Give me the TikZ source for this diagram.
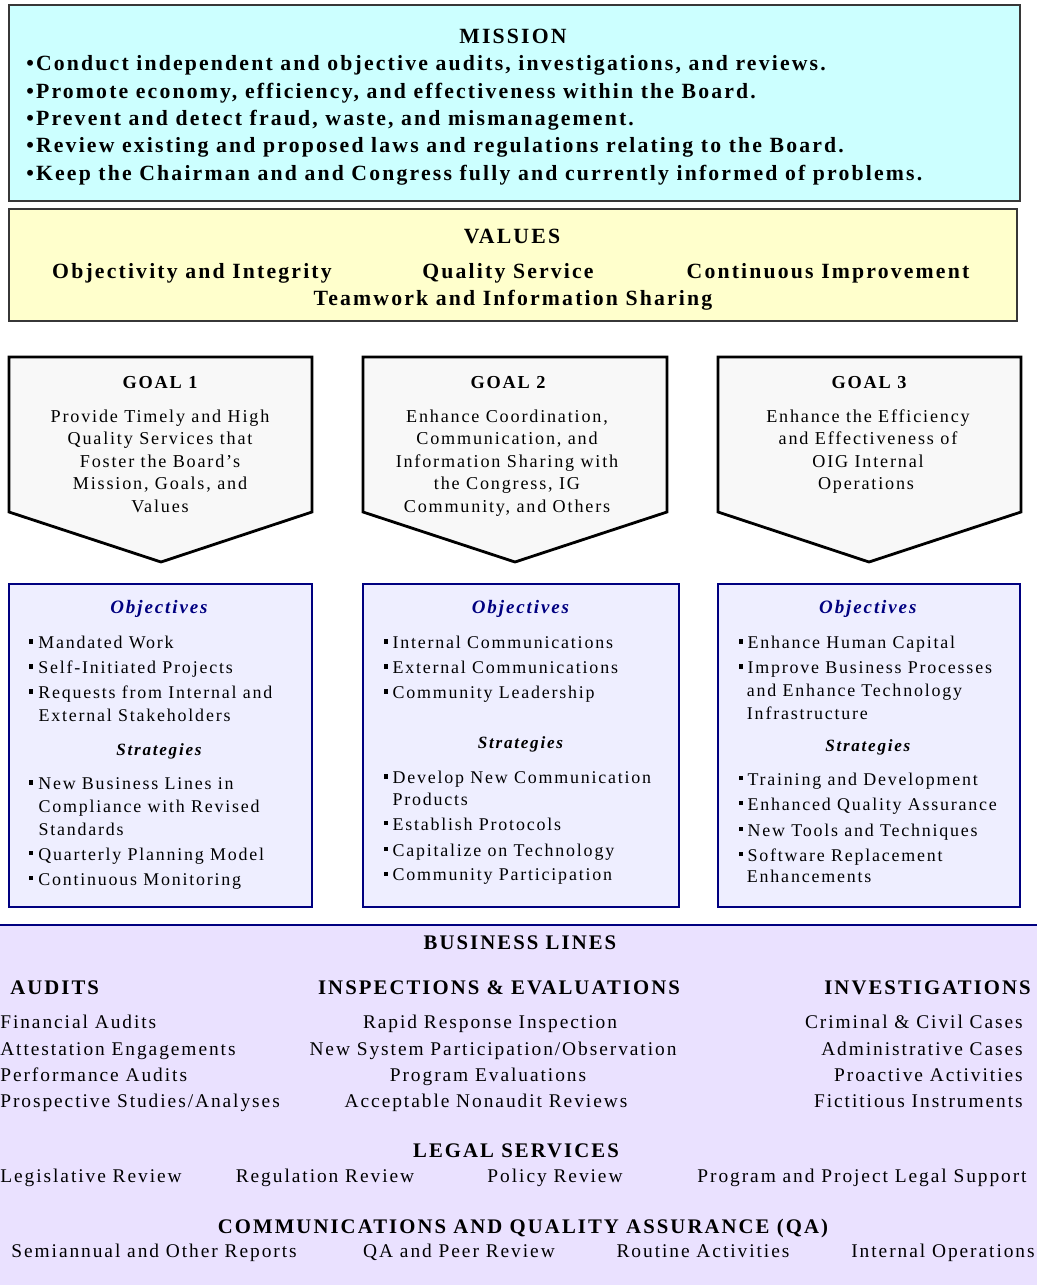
\documentclass[tikz,border=0pt]{standalone}
\usepackage{fontspec}
\setmainfont{Liberation Serif}[LetterSpace=10,Ligatures=CommonOff]
\usepackage{tikz}
\definecolor{navy}{RGB}{0,0,128}
\definecolor{missioncyan}{RGB}{204,255,255}
\definecolor{valuesyellow}{RGB}{255,255,204}
\definecolor{goalgray}{RGB}{248,248,248}
\definecolor{objlav}{RGB}{238,238,255}
\definecolor{bizlav}{RGB}{234,225,255}
\definecolor{framegray}{RGB}{55,55,55}
\newcommand{\fbig}{\fontsize{15.45}{18}\selectfont}
\newcommand{\fgoal}{\fontsize{12.9}{15}\selectfont}
\newcommand{\fitem}{\fontsize{12.75}{15}\selectfont}
\newcommand{\fgt}{\fontsize{13}{15}\selectfont}
\newcommand{\fobj}{\fontsize{13.5}{16}\selectfont}
\newcommand{\fstr}{\fontsize{12.2}{14}\selectfont}
\newcommand{\fhead}{\fontsize{14.75}{17}\selectfont}
\newcommand{\fbl}{\fontsize{13.8}{16}\selectfont}
\newcommand{\sqb}{\rule[3.4pt]{3pt}{3pt}\hspace{3.4pt}}
\tikzset{
  topbox/.style={draw=framegray,line width=1.2pt},
  goalbox/.style={draw=black,line width=2pt,fill=goalgray,line join=miter},
  objbox/.style={draw=navy,line width=2pt,fill=objlav},
  mhead/.style={anchor=base,inner sep=0pt,font=\fbig\bfseries},
  mline/.style={anchor=base west,inner sep=0pt,font=\fbig\bfseries},
  gtitle/.style={anchor=base,inner sep=0pt,font=\fgt\bfseries},
  gtext/.style={anchor=base,inner sep=0pt,font=\fgoal},
  objhead/.style={anchor=base,inner sep=0pt,font=\fobj\bfseries\itshape,text=navy},
  strhead/.style={anchor=base,inner sep=0pt,font=\fstr\bfseries\itshape},
  item/.style={anchor=base west,inner sep=0pt,font=\fitem},
  blhead/.style={anchor=base,inner sep=0pt,font=\fhead\bfseries},
  blitem/.style={anchor=base,inner sep=0pt,font=\fbl}
}
\begin{document}
\begin{tikzpicture}[x=0.025cm,y=-0.025cm]
\fill[white] (0,0) rectangle (1037,1285);
\useasboundingbox (0,0) rectangle (1037,1285);
% mission
\draw[topbox,fill=missioncyan] (9,5) rectangle (1020,201);
\node[mhead] (mhead) at (513,43) {MISSION};
\node[mline] (m1) at (26,70) {•Conduct independent and objective audits, investigations, and reviews.};
\node[mline] (m2) at (26,98) {•Promote economy, efficiency, and effectiveness within the Board.};
\node[mline] (m3) at (26,125) {•Prevent and detect fraud, waste, and mismanagement.};
\node[mline] (m4) at (26,152) {•Review existing and proposed laws and regulations relating to the Board.};
\node[mline] (m5) at (26,180) {•Keep the Chairman and and Congress fully and currently informed of problems.};
% values
\draw[topbox,fill=valuesyellow] (9,209) rectangle (1017,321);
\node[mhead] (vhead) at (512,243) {VALUES};
\node[mhead] (v1) at (192,278) {Objectivity and Integrity};
\node[mhead] (v2) at (508,278) {Quality Service};
\node[mhead] (v3) at (828,278) {Continuous Improvement};
\node[mhead] (v4) at (513,305) {Teamwork and Information Sharing};
% goals
\draw[goalbox] (9,357) -- (312,357) -- (312,512) -- (161,562) -- (9,512) -- cycle;
\draw[goalbox] (363,357) -- (667,357) -- (667,512) -- (515,562) -- (363,512) -- cycle;
\draw[goalbox] (718,357) -- (1021,357) -- (1021,512) -- (869,562) -- (718,512) -- cycle;
\node[gtitle] (g1t) at (160,388) {GOAL 1};
\node[gtext] (g1a) at (160,422) {Provide Timely and High};
\node[gtext] (g1b) at (160,444.5) {Quality Services that};
\node[gtext] (g1c) at (160,467.3) {Foster the Board’s};
\node[gtext] (g1d) at (160,489.5) {Mission, Goals, and};
\node[gtext] (g1e) at (160,512.3) {Values};
\node[gtitle] (g2t) at (508,388) {GOAL 2};
\node[gtext] (g2a) at (507,422) {Enhance Coordination,};
\node[gtext] (g2b) at (507,444.5) {Communication, and};
\node[gtext] (g2c) at (507,467.3) {Information Sharing with};
\node[gtext] (g2d) at (507,489.5) {the Congress, IG};
\node[gtext] (g2e) at (507,512.3) {Community, and Others};
\node[gtitle] (g3t) at (869,388) {GOAL 3};
\node[gtext] (g3a) at (868,422) {Enhance the Efficiency};
\node[gtext] (g3b) at (868,444.5) {and Effectiveness of};
\node[gtext] (g3c) at (868,467.3) {OIG Internal};
\node[gtext] (g3d) at (866,489.5) {Operations};
% objectives and strategies
\draw[objbox] (9,584) rectangle (312,907);
\draw[objbox] (363,584) rectangle (679,907);
\draw[objbox] (718,584) rectangle (1020,907);
\node[objhead] (o1h) at (159,613.3) {Objectives};
\node[item] (o1a) at (29,648.3) {\sqb Mandated Work};
\node[item] (o1b) at (29,673.3) {\sqb Self-Initiated Projects};
\node[item] (o1c) at (29,698.3) {\sqb Requests from Internal and};
\node[item] (o1d) at (38.3,721.7) {External Stakeholders};
\node[strhead] (s1h) at (159,755) {Strategies};
\node[item] (s1a) at (29,789.3) {\sqb New Business Lines in};
\node[item] (s1b) at (38.3,812.3) {Compliance with Revised};
\node[item] (s1c) at (38.3,835) {Standards};
\node[item] (s1d) at (29,860) {\sqb Quarterly Planning Model};
\node[item] (s1e) at (29,885) {\sqb Continuous Monitoring};
\node[objhead] (o2h) at (520.5,613.3) {Objectives};
\node[item] (o2a) at (383.3,648.3) {\sqb Internal Communications};
\node[item] (o2b) at (383.3,673.3) {\sqb External Communications};
\node[item] (o2c) at (383.3,698.3) {\sqb Community Leadership};
\node[strhead] (s2h) at (520.5,748.3) {Strategies};
\node[item] (s2a) at (383.3,783.3) {\sqb Develop New Communication};
\node[item] (s2b) at (392.3,805) {Products};
\node[item] (s2c) at (383.3,830) {\sqb Establish Protocols};
\node[item] (s2d) at (383.3,856) {\sqb Capitalize on Technology};
\node[item] (s2e) at (383.3,880.7) {\sqb Community Participation};
\node[objhead] (o3h) at (867.8,613.3) {Objectives};
\node[item] (o3a) at (738.3,648.3) {\sqb Enhance Human Capital};
\node[item] (o3b) at (738.3,673.3) {\sqb Improve Business Processes};
\node[item] (o3c) at (746.7,696.7) {and Enhance Technology};
\node[item] (o3d) at (746.7,719) {Infrastructure};
\node[strhead] (s3h) at (867.8,751) {Strategies};
\node[item] (s3a) at (738.3,785) {\sqb Training and Development};
\node[item] (s3b) at (738.3,810) {\sqb Enhanced Quality Assurance};
\node[item] (s3c) at (738.3,836) {\sqb New Tools and Techniques};
\node[item] (s3d) at (738.3,861) {\sqb Software Replacement};
\node[item] (s3e) at (746.7,882.7) {Enhancements};
% business lines
\fill[bizlav] (0,925) rectangle (1037,1285);
\draw[navy,line width=1.5pt] (0,925) -- (1037,925);
\node[blhead] (bhead) at (520,949) {BUSINESS LINES};
\node[blhead,anchor=base west] (aud) at (10,994) {AUDITS};
\node[blhead] (ins) at (499,994) {INSPECTIONS \& EVALUATIONS};
\node[blhead,anchor=base east] (inv) at (1031,994) {INVESTIGATIONS};
\node[blitem,anchor=base west] (aud1) at (0,1028) {Financial Audits};
\node[blitem,anchor=base west] (aud2) at (0,1055) {Attestation Engagements};
\node[blitem,anchor=base west] (aud3) at (0,1081) {Performance Audits};
\node[blitem,anchor=base west] (aud4) at (0,1107) {Prospective Studies/Analyses};
\node[blitem] (ins1) at (490,1028) {Rapid Response Inspection};
\node[blitem] (ins2) at (493,1055) {New System Participation/Observation};
\node[blitem] (ins3) at (488,1081) {Program Evaluations};
\node[blitem] (ins4) at (486,1107) {Acceptable Nonaudit Reviews};
\node[blitem,anchor=base east] (inv1) at (1023,1028) {Criminal \& Civil Cases};
\node[blitem,anchor=base east] (inv2) at (1023,1055) {Administrative Cases};
\node[blitem,anchor=base east] (inv3) at (1023,1081) {Proactive Activities};
\node[blitem,anchor=base east] (inv4) at (1023,1107) {Fictitious Instruments};
\node[blhead] (lhead) at (516,1157) {LEGAL SERVICES};
\node[blitem] (leg1) at (91,1182) {Legislative Review};
\node[blitem] (leg2) at (325,1182) {Regulation Review};
\node[blitem] (leg3) at (555,1182) {Policy Review};
\node[blitem] (leg4) at (862,1182) {Program and Project Legal Support};
\node[blhead] (chead) at (523,1233) {COMMUNICATIONS AND QUALITY ASSURANCE (QA)};
\node[blitem] (com1) at (154,1257.5) {Semiannual and Other Reports};
\node[blitem] (com2) at (459,1257.5) {QA and Peer Review};
\node[blitem] (com3) at (703,1257.5) {Routine Activities};
\node[blitem] (com4) at (943,1257.5) {Internal Operations};
\end{tikzpicture}
\end{document}
